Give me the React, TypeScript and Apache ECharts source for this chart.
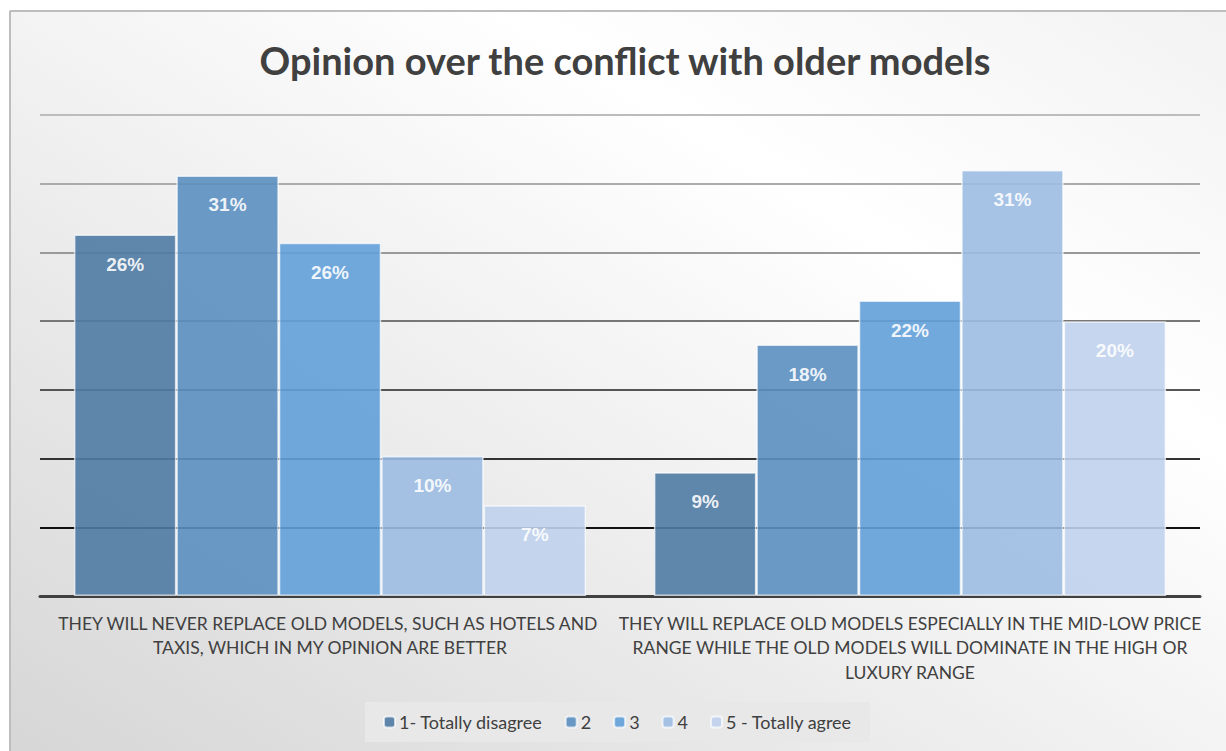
import React, { useEffect, useRef } from "react";
import * as echarts from "echarts";

const categories = [
  "THEY WILL NEVER REPLACE OLD MODELS, SUCH AS HOTELS AND TAXIS, WHICH IN MY OPINION ARE BETTER",
  "THEY WILL REPLACE OLD MODELS ESPECIALLY IN THE MID-LOW PRICE RANGE WHILE THE OLD MODELS WILL DOMINATE IN THE HIGH OR LUXURY RANGE",
];
const seriesNames = ["1- Totally disagree", "2", "3", "4", "5 - Totally agree"];
const s1 = [26.3, 9.0];
const s2 = [30.6, 18.3];
const s3 = [25.7, 21.5];
const s4 = [10.2, 31.0];
const s5 = [6.6, 20.0];
const seriesValues = [s1, s2, s3, s4, s5];
const colors = ["#4f7aa3", "#5b8fc0", "#62a0d9", "#9cbde3", "#bfd2ec"];

export default function App() {
  const ref = useRef<HTMLDivElement>(null);
  useEffect(() => {
    if (!ref.current) return;
    const chart = echarts.init(ref.current, null, { renderer: "svg" });
    const font = "Lato, 'Open Sans', sans-serif";
    chart.setOption({
      animation: false,
      backgroundColor: {
        type: "linear",
        x: 1,
        y: 0,
        x2: 0,
        y2: 1,
        colorStops: [
          { offset: 0, color: "#f2f2f2" },
          { offset: 0.3, color: "#ffffff" },
          { offset: 1, color: "#d6d6d6" },
        ],
      },
      graphic: [
        { type: "rect", shape: { x: 0, y: 0, width: 1226, height: 10 }, style: { fill: "#ffffff" }, z: -1 },
        { type: "rect", shape: { x: 0, y: 0, width: 9, height: 751 }, style: { fill: "#ffffff" }, z: -1 },
        { type: "line", shape: { x1: 10, y1: 11, x2: 1226, y2: 11 }, style: { stroke: "#bdbdbd", lineWidth: 2 }, z: -1 },
        { type: "line", shape: { x1: 10, y1: 11, x2: 10, y2: 751 }, style: { stroke: "#bdbdbd", lineWidth: 2 }, z: -1 },
      ],
      title: {
        text: "Opinion over the conflict with older models",
        left: 620,
        textAlign: "center",
        top: 36,
        textStyle: { fontFamily: font, fontSize: 38, fontWeight: "bold", color: "#404040" },
      },
      legend: {
        bottom: 9,
        left: 365,
        data: seriesNames,
        itemWidth: 11,
        itemHeight: 11,
        itemGap: 22,
        padding: [11, 18, 11, 18],
        backgroundColor: "#e8e8e8",
        textStyle: { fontFamily: font, fontSize: 18, color: "#404040", padding: [0, 0, 0, -1] },
      },
      grid: { left: 40, right: 26, top: 115, bottom: 155, containLabel: false },
      xAxis: {
        type: "category",
        data: categories,
        axisLine: { lineStyle: { color: "#404040", width: 3 } },
        axisTick: { show: false },
        axisLabel: {
          interval: 0,
          width: 593,
          overflow: "break",
          margin: 15,
          lineHeight: 24.5,
          fontFamily: font,
          fontSize: 17.5,
          color: "#404040",
        },
      },
      yAxis: {
        type: "value",
        min: 0,
        max: 35,
        interval: 5,
        axisLabel: { show: false },
        axisLine: { show: false },
        axisTick: { show: false },
        splitLine: {
          lineStyle: {
            width: 2,
            color: ["#404040", "#111111", "#333333", "#555555", "#777777", "#999999", "#ababab", "#bcbcbc"],
          },
        },
      },
      series: seriesValues.map((vals, i) => ({
        name: seriesNames[i],
        type: "bar",
        data: vals,
        barGap: "0%",
        barCategoryGap: "11.7%",
        itemStyle: {
          color: colors[i],
          opacity: 0.9,
          borderColor: "rgba(255,255,255,0.75)",
          borderWidth: 1.5,
        },
        label: {
          show: true,
          position: "insideTop",
          distance: 20,
          formatter: (p: any) => Math.round(p.value) + "%",
          fontFamily: "'Liberation Sans', Arial, sans-serif",
          fontWeight: "bold",
          fontSize: 19,
          color: "#ffffff",
        },
      })),
    });
    return () => chart.dispose();
  }, []);
  return (
    <div
      ref={ref}
      style={{ position: "absolute", left: 0, top: 0, width: 1226, height: 751 }}
    />
  );
}
